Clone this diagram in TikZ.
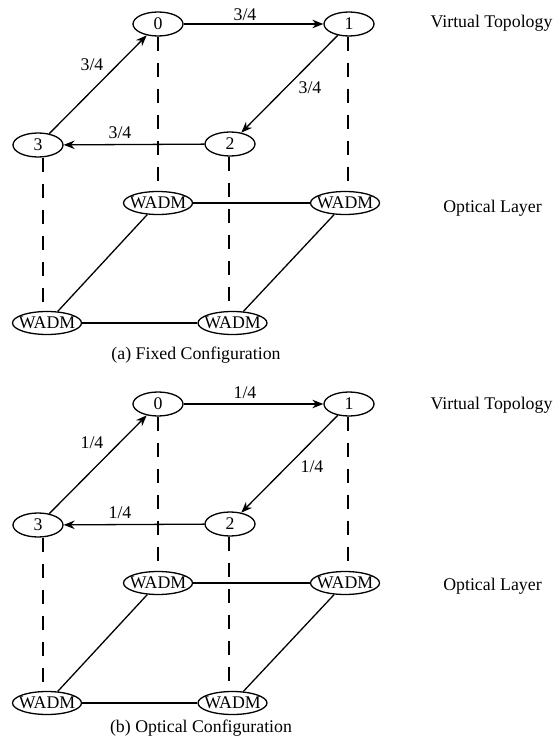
\documentclass[tikz,border=0pt]{standalone}
\usepackage{fontspec}
\setmainfont{Liberation Serif}
\usetikzlibrary{arrows.meta,shapes.geometric}
\begin{document}
\begin{tikzpicture}[x=1pt,y=-1pt,
  font=\fontsize{17.8}{20}\selectfont,
  vnode/.style={draw, ellipse, minimum width=50pt, minimum height=24pt, inner sep=0pt, line width=1.3pt},
  wnode/.style={draw, ellipse, minimum width=69pt, minimum height=23pt, inner sep=0pt, line width=1.3pt},
  arc/.style={line width=1.3pt, -{Stealth[length=11pt,width=8.5pt]}},
  link/.style={line width=1.3pt},
  drop/.style={line width=1.3pt, dash pattern=on 14pt off 12pt},
  lbl/.style={inner sep=0pt}
]
\useasboundingbox (0,0) rectangle (558,743);

% ---------------- panel (a)
\node[vnode] (a0) at (158,24) {0};
\node[vnode] (a1) at (349,24) {1};
\node[vnode] (a2) at (230,144) {2};
\node[vnode] (a3) at (38,145) {3};
\node[wnode] (aw0) at (158,203) {\makebox[30pt]{WADM}};
\node[wnode] (aw1) at (345,203) {\makebox[30pt]{WADM}};
\node[wnode] (aw2) at (232.5,323) {\makebox[30pt]{WADM}};
\node[wnode] (aw3) at (47,323) {\makebox[30pt]{WADM}};

\draw[drop] (a0) -- (aw0);
\draw[drop] ([xshift=-1pt]a1.south) -- ([xshift=3pt]aw1.north);
\draw[drop] ([xshift=-1pt]a2.south) -- ([xshift=-3.5pt]aw2.north);
\draw[drop] ([xshift=5pt]a3.south) -- ([xshift=-4pt]aw3.north);

\draw[arc] (a0) -- (a1);
\draw[arc] (a1) -- (a2);
\draw[arc] (a2) -- (a3);
\draw[arc] (a3) -- (a0);

\draw[link] (aw0) -- (aw1);
\draw[link] (aw0) -- (aw3);
\draw[link] (aw1) -- (aw2);
\draw[link] (aw3) -- (aw2);

\node[lbl] (al01) at (245,15) {3/4};
\node[lbl] (al12) at (310,88) {3/4};
\node[lbl] (al23) at (120,133) {3/4};
\node[lbl] (al30) at (92,65) {3/4};

\node[lbl] (avt) at (491.5,23) {Virtual Topology};
\node[lbl] (aol) at (492.5,208) {Optical Layer};
\node[lbl] (acap) at (196,355) {(a) Fixed Configuration};

% ---------------- panel (b)
\node[vnode] (b0) at (158,404) {0};
\node[vnode] (b1) at (349,404) {1};
\node[vnode] (b2) at (230,524) {2};
\node[vnode] (b3) at (38,525) {3};
\node[wnode] (bw0) at (158,583) {\makebox[30pt]{WADM}};
\node[wnode] (bw1) at (345,583) {\makebox[30pt]{WADM}};
\node[wnode] (bw2) at (232.5,703) {\makebox[30pt]{WADM}};
\node[wnode] (bw3) at (47,703) {\makebox[30pt]{WADM}};

\draw[drop] (b0) -- (bw0);
\draw[drop] ([xshift=-1pt]b1.south) -- ([xshift=3pt]bw1.north);
\draw[drop] ([xshift=-1pt]b2.south) -- ([xshift=-3.5pt]bw2.north);
\draw[drop] ([xshift=5pt]b3.south) -- ([xshift=-4pt]bw3.north);

\draw[arc] (b0) -- (b1);
\draw[arc] (b1) -- (b2);
\draw[arc] (b2) -- (b3);
\draw[arc] (b3) -- (b0);

\draw[link] (bw0) -- (bw1);
\draw[link] (bw0) -- (bw3);
\draw[link] (bw1) -- (bw2);
\draw[link] (bw3) -- (bw2);

\node[lbl] (bl01) at (245,393) {1/4};
\node[lbl] (bl12) at (312,467) {1/4};
\node[lbl] (bl23) at (120,513) {1/4};
\node[lbl] (bl30) at (92,443) {1/4};

\node[lbl] (bvt) at (491.5,405) {Virtual Topology};
\node[lbl] (bol) at (492.5,586) {Optical Layer};
\node[lbl] (bcap) at (201,728) {(b) Optical Configuration};
\end{tikzpicture}
\end{document}
